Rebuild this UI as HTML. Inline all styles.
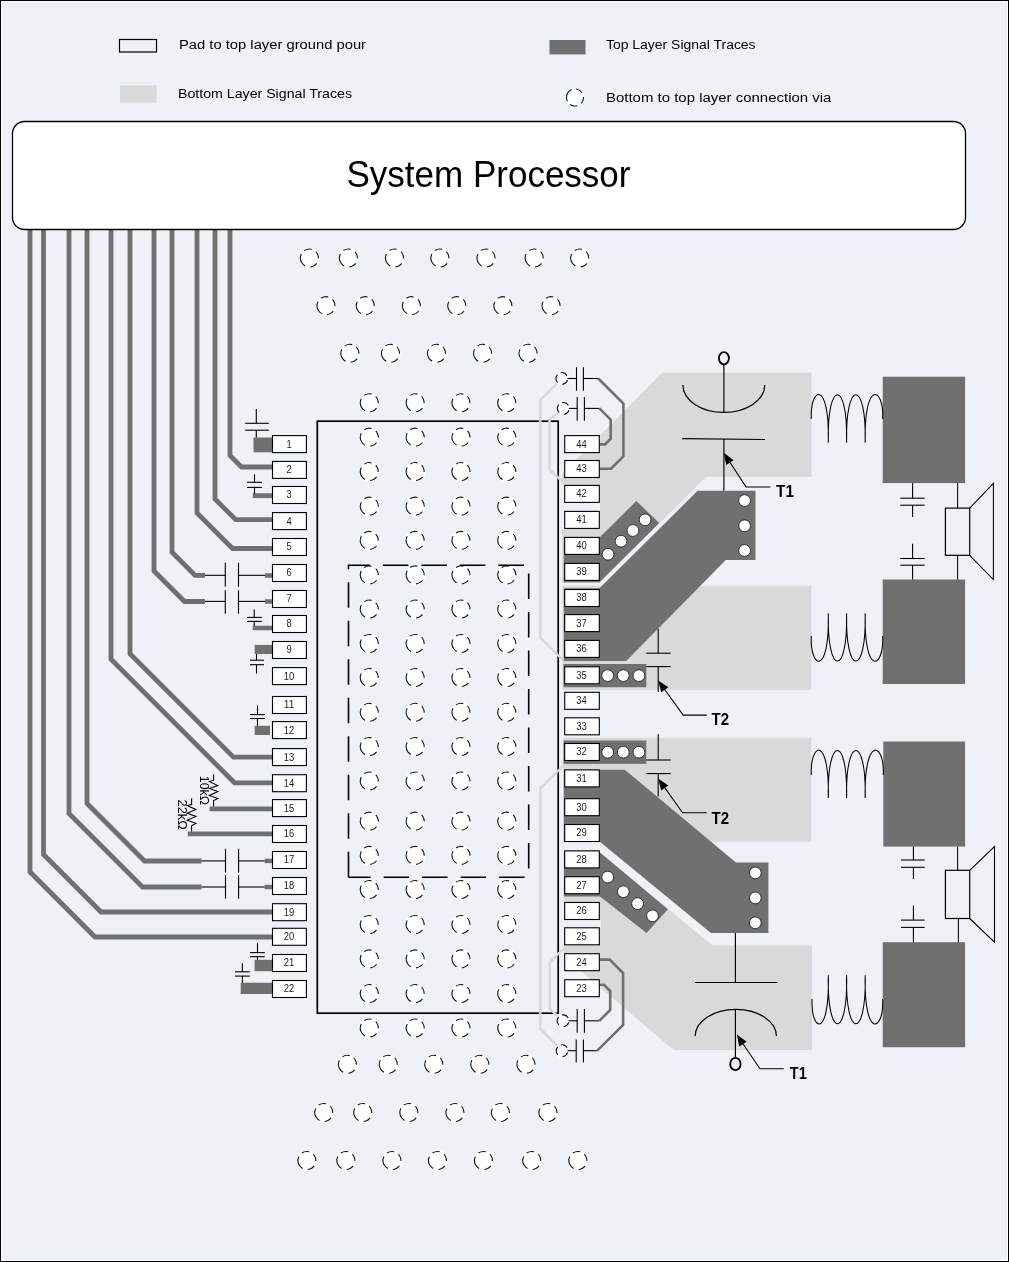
<!DOCTYPE html>
<html><head><meta charset="utf-8"><title>PCB layout</title>
<style>html,body{margin:0;padding:0;background:#EEF1F6;}svg{display:block;will-change:transform;}text{font-family:"Liberation Sans", sans-serif;}</style>
</head><body>
<svg width="1009" height="1262" viewBox="0 0 1009 1262" font-family="Liberation Sans, sans-serif">
<rect x="0" y="0" width="1009" height="1262" fill="#EEF1F6"/>
<rect x="119.5" y="39.5" width="37" height="12.5" fill="none" stroke="#000" stroke-width="1.2"/>
<rect x="120" y="85.5" width="36.6" height="17" fill="#D9D9D9"/>
<rect x="549.5" y="40" width="36" height="14.4" fill="#707070"/>
<circle cx="575" cy="97.5" r="9.7" fill="#fff"/>
<circle cx="575" cy="97.5" r="8.5" fill="#fff" stroke="#111" stroke-width="1.1" stroke-dasharray="7.1 4.45 7 4.6 7.4 4.3 13.9 4.45" transform="rotate(-82.7 575 97.5)"/>
<text x="179" y="49.3" font-size="13.7" textLength="187" lengthAdjust="spacingAndGlyphs">Pad to top layer ground pour</text>
<text x="178" y="98.4" font-size="13.7" textLength="174" lengthAdjust="spacingAndGlyphs">Bottom Layer Signal Traces</text>
<text x="606" y="49.3" font-size="13.7" textLength="149.6" lengthAdjust="spacingAndGlyphs">Top Layer Signal Traces</text>
<text x="606" y="101.6" font-size="13.7" textLength="225.4" lengthAdjust="spacingAndGlyphs">Bottom to top layer connection via</text>
<path d="M30,229 L30,872 L95,937 L272.5,937" fill="none" stroke="#707070" stroke-width="4.8" stroke-linejoin="miter" stroke-linecap="butt"/>
<path d="M43.5,229 L43.5,854.5 L101,912 L272.5,912" fill="none" stroke="#707070" stroke-width="4.8" stroke-linejoin="miter" stroke-linecap="butt"/>
<path d="M69,229 L69,813.5 L142.5,887 L201.5,887" fill="none" stroke="#707070" stroke-width="4.8" stroke-linejoin="miter" stroke-linecap="butt"/>
<path d="M87,229 L87,803.5 L144.5,861 L201.5,861" fill="none" stroke="#707070" stroke-width="4.8" stroke-linejoin="miter" stroke-linecap="butt"/>
<path d="M111,229 L111,659.3 L234.5,782.8 L272.5,782.8" fill="none" stroke="#707070" stroke-width="4.8" stroke-linejoin="miter" stroke-linecap="butt"/>
<path d="M130,229 L130,653.7 L233.5,757.2 L272.5,757.2" fill="none" stroke="#707070" stroke-width="4.8" stroke-linejoin="miter" stroke-linecap="butt"/>
<path d="M154,229 L154,571 L184.5,601.5 L205,601.5" fill="none" stroke="#707070" stroke-width="4.8" stroke-linejoin="miter" stroke-linecap="butt"/>
<path d="M172,229 L172,552.3 L195,575.3 L205,575.3" fill="none" stroke="#707070" stroke-width="4.8" stroke-linejoin="miter" stroke-linecap="butt"/>
<path d="M197,229 L197,513 L232.5,548.5 L272.5,548.5" fill="none" stroke="#707070" stroke-width="4.8" stroke-linejoin="miter" stroke-linecap="butt"/>
<path d="M215,229 L215,499 L235.7,519.7 L272.5,519.7" fill="none" stroke="#707070" stroke-width="4.8" stroke-linejoin="miter" stroke-linecap="butt"/>
<path d="M230,229 L230,455.5 L241.5,467 L272.5,467" fill="none" stroke="#707070" stroke-width="4.8" stroke-linejoin="miter" stroke-linecap="butt"/>
<rect x="12.5" y="121.5" width="953" height="108" rx="12" ry="12" fill="#fff" stroke="#000" stroke-width="1.3"/>
<text x="346.5" y="186.6" font-size="36.8" textLength="284" lengthAdjust="spacingAndGlyphs">System Processor</text>
<rect x="253.5" y="437.5" width="19" height="14.8" fill="#707070"/>
<path d="M256.3,409 L256.3,423.3" fill="none" stroke="#000" stroke-width="1.1" />
<path d="M245.2,423.3 L268.8,423.3" fill="none" stroke="#000" stroke-width="1.1" />
<path d="M245.2,430.2 L268.8,430.2" fill="none" stroke="#000" stroke-width="1.1" />
<path d="M256.3,430.2 L256.3,437.5" fill="none" stroke="#000" stroke-width="1.1" />
<path d="M252.8,495.7 L272.5,495.7" fill="none" stroke="#707070" stroke-width="4.8" stroke-linejoin="miter" stroke-linecap="butt"/>
<path d="M254.5,474.2 L254.5,482.3" fill="none" stroke="#000" stroke-width="1.1" />
<path d="M247,482.3 L261.9,482.3" fill="none" stroke="#000" stroke-width="1.1" />
<path d="M247,487.4 L261.9,487.4" fill="none" stroke="#000" stroke-width="1.1" />
<path d="M254.5,487.4 L254.5,494" fill="none" stroke="#000" stroke-width="1.1" />
<path d="M265,575.5 L272.5,575.5" fill="none" stroke="#707070" stroke-width="4.5" stroke-linejoin="miter" stroke-linecap="butt"/>
<path d="M205,575.3 L225.3,575.3" fill="none" stroke="#000" stroke-width="1.1" />
<path d="M225.3,562.8 L225.3,586.6" fill="none" stroke="#000" stroke-width="1.1" />
<path d="M238.5,562.8 L238.5,586.6" fill="none" stroke="#000" stroke-width="1.1" />
<path d="M238.5,575.3 L265,575.3" fill="none" stroke="#000" stroke-width="1.1" />
<path d="M265,601.5 L272.5,601.5" fill="none" stroke="#707070" stroke-width="4.5" stroke-linejoin="miter" stroke-linecap="butt"/>
<path d="M205,601.4 L225.3,601.4" fill="none" stroke="#000" stroke-width="1.1" />
<path d="M225.3,590.3 L225.3,613.7" fill="none" stroke="#000" stroke-width="1.1" />
<path d="M238.5,590.3 L238.5,613.7" fill="none" stroke="#000" stroke-width="1.1" />
<path d="M238.5,601.4 L265,601.4" fill="none" stroke="#000" stroke-width="1.1" />
<path d="M252.7,628 L272.5,628" fill="none" stroke="#707070" stroke-width="4.5" stroke-linejoin="miter" stroke-linecap="butt"/>
<path d="M254.2,609.4 L254.2,617.4" fill="none" stroke="#000" stroke-width="1.1" />
<path d="M247,617.4 L261.8,617.4" fill="none" stroke="#000" stroke-width="1.1" />
<path d="M247,621.4 L261.8,621.4" fill="none" stroke="#000" stroke-width="1.1" />
<path d="M254.2,621.4 L254.2,626" fill="none" stroke="#000" stroke-width="1.1" />
<rect x="254.7" y="644.9" width="17.8" height="9.1" fill="#707070"/>
<path d="M256.5,673.6 L256.5,664.7" fill="none" stroke="#000" stroke-width="1.1" />
<path d="M250,664.7 L264,664.7" fill="none" stroke="#000" stroke-width="1.1" />
<path d="M250,660.2 L264,660.2" fill="none" stroke="#000" stroke-width="1.1" />
<path d="M256.5,660.2 L256.5,654" fill="none" stroke="#000" stroke-width="1.1" />
<rect x="254.7" y="725.8" width="15.3" height="9.2" fill="#707070"/>
<path d="M257.5,705.4 L257.5,714.6" fill="none" stroke="#000" stroke-width="1.1" />
<path d="M250,714.6 L265,714.6" fill="none" stroke="#000" stroke-width="1.1" />
<path d="M250,718.5 L265,718.5" fill="none" stroke="#000" stroke-width="1.1" />
<path d="M257.5,718.5 L257.5,725.8" fill="none" stroke="#000" stroke-width="1.1" />
<path d="M209.6,808.8 L272.5,808.8" fill="none" stroke="#707070" stroke-width="4.8" stroke-linejoin="miter" stroke-linecap="butt"/>
<path d="M187.8,833.8 L272.5,833.8" fill="none" stroke="#707070" stroke-width="4.8" stroke-linejoin="miter" stroke-linecap="butt"/>
<path d="M213.6,774.2 L213.6,780.2 L209.3,781.5 L217.9,785.6 L209.3,788.5 L217.9,791.6 L209.3,795.4 L217.9,798.6 L213.6,800.5 L213.6,806.5" fill="none" stroke="#000" stroke-width="1.05" />
<path d="M191.6,798.3 L191.6,804.6 L187.1,805.6 L196,809.4 L187.1,813.2 L196,816.4 L187.1,820.2 L196,823.3 L191.6,825.9 L191.6,831.6" fill="none" stroke="#000" stroke-width="1.05" />
<text transform="translate(200.3,775.8) rotate(90)" x="0" y="0" font-size="12.5" textLength="29.2" lengthAdjust="spacingAndGlyphs">10kΩ</text>
<text transform="translate(178.4,799.6) rotate(90)" x="0" y="0" font-size="12.5" textLength="30.1" lengthAdjust="spacingAndGlyphs">22kΩ</text>
<path d="M264.6,860.9 L272.5,860.9" fill="none" stroke="#707070" stroke-width="4.5" stroke-linejoin="miter" stroke-linecap="butt"/>
<path d="M201.5,860.9 L225.5,860.9" fill="none" stroke="#000" stroke-width="1.1" />
<path d="M225.5,848.8 L225.5,872.4" fill="none" stroke="#000" stroke-width="1.1" />
<path d="M238.6,848.8 L238.6,872.4" fill="none" stroke="#000" stroke-width="1.1" />
<path d="M238.6,860.9 L264.6,860.9" fill="none" stroke="#000" stroke-width="1.1" />
<path d="M264.6,887 L272.5,887" fill="none" stroke="#707070" stroke-width="4.5" stroke-linejoin="miter" stroke-linecap="butt"/>
<path d="M201.5,887 L225.5,887" fill="none" stroke="#000" stroke-width="1.1" />
<path d="M225.5,875.2 L225.5,898.7" fill="none" stroke="#000" stroke-width="1.1" />
<path d="M238.6,875.2 L238.6,898.7" fill="none" stroke="#000" stroke-width="1.1" />
<path d="M238.6,887 L264.6,887" fill="none" stroke="#000" stroke-width="1.1" />
<rect x="254.6" y="959.8" width="17.9" height="11.4" fill="#707070"/>
<path d="M257.5,943.2 L257.5,952.6" fill="none" stroke="#000" stroke-width="1.1" />
<path d="M250.1,952.6 L264.8,952.6" fill="none" stroke="#000" stroke-width="1.1" />
<path d="M250.1,956.7 L264.8,956.7" fill="none" stroke="#000" stroke-width="1.1" />
<path d="M257.5,956.7 L257.5,959.8" fill="none" stroke="#000" stroke-width="1.1" />
<rect x="240.7" y="982.7" width="31.8" height="11.3" fill="#707070"/>
<path d="M242.4,963.3 L242.4,971.8" fill="none" stroke="#000" stroke-width="1.1" />
<path d="M235,971.8 L249.8,971.8" fill="none" stroke="#000" stroke-width="1.1" />
<path d="M235,976.1 L249.8,976.1" fill="none" stroke="#000" stroke-width="1.1" />
<path d="M242.4,976.1 L242.4,982.7" fill="none" stroke="#000" stroke-width="1.1" />
<rect x="272.5" y="435.6" width="33.9" height="17.0" fill="#fff" stroke="#000" stroke-width="1.1"/>
<text x="286.45" y="447.5" font-size="10" textLength="5.2" lengthAdjust="spacingAndGlyphs" fill="#1a1a1a">1</text>
<rect x="272.5" y="461.4" width="33.9" height="17.0" fill="#fff" stroke="#000" stroke-width="1.1"/>
<text x="286.45" y="473.3" font-size="10" textLength="5.2" lengthAdjust="spacingAndGlyphs" fill="#1a1a1a">2</text>
<rect x="272.5" y="486.5" width="33.9" height="17.0" fill="#fff" stroke="#000" stroke-width="1.1"/>
<text x="286.45" y="498.4" font-size="10" textLength="5.2" lengthAdjust="spacingAndGlyphs" fill="#1a1a1a">3</text>
<rect x="272.5" y="512.6" width="33.9" height="17.0" fill="#fff" stroke="#000" stroke-width="1.1"/>
<text x="286.45" y="524.5" font-size="10" textLength="5.2" lengthAdjust="spacingAndGlyphs" fill="#1a1a1a">4</text>
<rect x="272.5" y="538.5" width="33.9" height="17.0" fill="#fff" stroke="#000" stroke-width="1.1"/>
<text x="286.45" y="550.4" font-size="10" textLength="5.2" lengthAdjust="spacingAndGlyphs" fill="#1a1a1a">5</text>
<rect x="272.5" y="564.5" width="33.9" height="17.0" fill="#fff" stroke="#000" stroke-width="1.1"/>
<text x="286.45" y="576.4" font-size="10" textLength="5.2" lengthAdjust="spacingAndGlyphs" fill="#1a1a1a">6</text>
<rect x="272.5" y="590.5" width="33.9" height="17.0" fill="#fff" stroke="#000" stroke-width="1.1"/>
<text x="286.45" y="602.4" font-size="10" textLength="5.2" lengthAdjust="spacingAndGlyphs" fill="#1a1a1a">7</text>
<rect x="272.5" y="615.5" width="33.9" height="17.0" fill="#fff" stroke="#000" stroke-width="1.1"/>
<text x="286.45" y="627.4" font-size="10" textLength="5.2" lengthAdjust="spacingAndGlyphs" fill="#1a1a1a">8</text>
<rect x="272.5" y="641.5" width="33.9" height="17.0" fill="#fff" stroke="#000" stroke-width="1.1"/>
<text x="286.45" y="653.4" font-size="10" textLength="5.2" lengthAdjust="spacingAndGlyphs" fill="#1a1a1a">9</text>
<rect x="272.5" y="667.6" width="33.9" height="17.0" fill="#fff" stroke="#000" stroke-width="1.1"/>
<text x="283.8" y="679.5" font-size="10" textLength="10.5" lengthAdjust="spacingAndGlyphs" fill="#1a1a1a">10</text>
<rect x="272.5" y="696.5" width="33.9" height="17.0" fill="#fff" stroke="#000" stroke-width="1.1"/>
<text x="283.8" y="708.4" font-size="10" textLength="10.5" lengthAdjust="spacingAndGlyphs" fill="#1a1a1a">11</text>
<rect x="272.5" y="721.6" width="33.9" height="17.0" fill="#fff" stroke="#000" stroke-width="1.1"/>
<text x="283.8" y="733.5" font-size="10" textLength="10.5" lengthAdjust="spacingAndGlyphs" fill="#1a1a1a">12</text>
<rect x="272.5" y="748.6" width="33.9" height="17.0" fill="#fff" stroke="#000" stroke-width="1.1"/>
<text x="283.8" y="760.5" font-size="10" textLength="10.5" lengthAdjust="spacingAndGlyphs" fill="#1a1a1a">13</text>
<rect x="272.5" y="774.7" width="33.9" height="17.0" fill="#fff" stroke="#000" stroke-width="1.1"/>
<text x="283.8" y="786.6" font-size="10" textLength="10.5" lengthAdjust="spacingAndGlyphs" fill="#1a1a1a">14</text>
<rect x="272.5" y="799.6" width="33.9" height="17.0" fill="#fff" stroke="#000" stroke-width="1.1"/>
<text x="283.8" y="811.5" font-size="10" textLength="10.5" lengthAdjust="spacingAndGlyphs" fill="#1a1a1a">15</text>
<rect x="272.5" y="825.5" width="33.9" height="17.0" fill="#fff" stroke="#000" stroke-width="1.1"/>
<text x="283.8" y="837.4" font-size="10" textLength="10.5" lengthAdjust="spacingAndGlyphs" fill="#1a1a1a">16</text>
<rect x="272.5" y="851.5" width="33.9" height="17.0" fill="#fff" stroke="#000" stroke-width="1.1"/>
<text x="283.8" y="863.4" font-size="10" textLength="10.5" lengthAdjust="spacingAndGlyphs" fill="#1a1a1a">17</text>
<rect x="272.5" y="877.5" width="33.9" height="17.0" fill="#fff" stroke="#000" stroke-width="1.1"/>
<text x="283.8" y="889.4" font-size="10" textLength="10.5" lengthAdjust="spacingAndGlyphs" fill="#1a1a1a">18</text>
<rect x="272.5" y="903.7" width="33.9" height="17.0" fill="#fff" stroke="#000" stroke-width="1.1"/>
<text x="283.8" y="915.6" font-size="10" textLength="10.5" lengthAdjust="spacingAndGlyphs" fill="#1a1a1a">19</text>
<rect x="272.5" y="928.3" width="33.9" height="17.0" fill="#fff" stroke="#000" stroke-width="1.1"/>
<text x="283.8" y="940.2" font-size="10" textLength="10.5" lengthAdjust="spacingAndGlyphs" fill="#1a1a1a">20</text>
<rect x="272.5" y="954.5" width="33.9" height="17.0" fill="#fff" stroke="#000" stroke-width="1.1"/>
<text x="283.8" y="966.4" font-size="10" textLength="10.5" lengthAdjust="spacingAndGlyphs" fill="#1a1a1a">21</text>
<rect x="272.5" y="980.5" width="33.9" height="17.0" fill="#fff" stroke="#000" stroke-width="1.1"/>
<text x="283.8" y="992.4" font-size="10" textLength="10.5" lengthAdjust="spacingAndGlyphs" fill="#1a1a1a">22</text>
<circle cx="309.4" cy="258" r="10.2" fill="#fff"/>
<circle cx="309.4" cy="258" r="9" fill="#fff" stroke="#111" stroke-width="1.1" stroke-dasharray="7.6 4.7 7.5 5.2 7.6 5.2 13.8 4.9" transform="rotate(-124 309.4 258)"/>
<circle cx="348.4" cy="258" r="10.2" fill="#fff"/>
<circle cx="348.4" cy="258" r="9" fill="#fff" stroke="#111" stroke-width="1.1" stroke-dasharray="7.6 4.7 7.5 5.2 7.6 5.2 13.8 4.9" transform="rotate(-124 348.4 258)"/>
<circle cx="394.5" cy="258" r="10.2" fill="#fff"/>
<circle cx="394.5" cy="258" r="9" fill="#fff" stroke="#111" stroke-width="1.1" stroke-dasharray="7.6 4.7 7.5 5.2 7.6 5.2 13.8 4.9" transform="rotate(-124 394.5 258)"/>
<circle cx="439.9" cy="258" r="10.2" fill="#fff"/>
<circle cx="439.9" cy="258" r="9" fill="#fff" stroke="#111" stroke-width="1.1" stroke-dasharray="7.6 4.7 7.5 5.2 7.6 5.2 13.8 4.9" transform="rotate(-124 439.9 258)"/>
<circle cx="486" cy="258" r="10.2" fill="#fff"/>
<circle cx="486" cy="258" r="9" fill="#fff" stroke="#111" stroke-width="1.1" stroke-dasharray="7.6 4.7 7.5 5.2 7.6 5.2 13.8 4.9" transform="rotate(-124 486 258)"/>
<circle cx="534.2" cy="258" r="10.2" fill="#fff"/>
<circle cx="534.2" cy="258" r="9" fill="#fff" stroke="#111" stroke-width="1.1" stroke-dasharray="7.6 4.7 7.5 5.2 7.6 5.2 13.8 4.9" transform="rotate(-124 534.2 258)"/>
<circle cx="579.7" cy="258" r="10.2" fill="#fff"/>
<circle cx="579.7" cy="258" r="9" fill="#fff" stroke="#111" stroke-width="1.1" stroke-dasharray="7.6 4.7 7.5 5.2 7.6 5.2 13.8 4.9" transform="rotate(-124 579.7 258)"/>
<circle cx="326" cy="305.7" r="10.2" fill="#fff"/>
<circle cx="326" cy="305.7" r="9" fill="#fff" stroke="#111" stroke-width="1.1" stroke-dasharray="7.6 4.7 7.5 5.2 7.6 5.2 13.8 4.9" transform="rotate(-124 326 305.7)"/>
<circle cx="365.3" cy="305.7" r="10.2" fill="#fff"/>
<circle cx="365.3" cy="305.7" r="9" fill="#fff" stroke="#111" stroke-width="1.1" stroke-dasharray="7.6 4.7 7.5 5.2 7.6 5.2 13.8 4.9" transform="rotate(-124 365.3 305.7)"/>
<circle cx="411.4" cy="305.7" r="10.2" fill="#fff"/>
<circle cx="411.4" cy="305.7" r="9" fill="#fff" stroke="#111" stroke-width="1.1" stroke-dasharray="7.6 4.7 7.5 5.2 7.6 5.2 13.8 4.9" transform="rotate(-124 411.4 305.7)"/>
<circle cx="456.8" cy="305.7" r="10.2" fill="#fff"/>
<circle cx="456.8" cy="305.7" r="9" fill="#fff" stroke="#111" stroke-width="1.1" stroke-dasharray="7.6 4.7 7.5 5.2 7.6 5.2 13.8 4.9" transform="rotate(-124 456.8 305.7)"/>
<circle cx="502.9" cy="305.7" r="10.2" fill="#fff"/>
<circle cx="502.9" cy="305.7" r="9" fill="#fff" stroke="#111" stroke-width="1.1" stroke-dasharray="7.6 4.7 7.5 5.2 7.6 5.2 13.8 4.9" transform="rotate(-124 502.9 305.7)"/>
<circle cx="551.1" cy="305.7" r="10.2" fill="#fff"/>
<circle cx="551.1" cy="305.7" r="9" fill="#fff" stroke="#111" stroke-width="1.1" stroke-dasharray="7.6 4.7 7.5 5.2 7.6 5.2 13.8 4.9" transform="rotate(-124 551.1 305.7)"/>
<circle cx="349.9" cy="353.3" r="10.2" fill="#fff"/>
<circle cx="349.9" cy="353.3" r="9" fill="#fff" stroke="#111" stroke-width="1.1" stroke-dasharray="7.6 4.7 7.5 5.2 7.6 5.2 13.8 4.9" transform="rotate(-124 349.9 353.3)"/>
<circle cx="390.5" cy="353.3" r="10.2" fill="#fff"/>
<circle cx="390.5" cy="353.3" r="9" fill="#fff" stroke="#111" stroke-width="1.1" stroke-dasharray="7.6 4.7 7.5 5.2 7.6 5.2 13.8 4.9" transform="rotate(-124 390.5 353.3)"/>
<circle cx="436.5" cy="353.3" r="10.2" fill="#fff"/>
<circle cx="436.5" cy="353.3" r="9" fill="#fff" stroke="#111" stroke-width="1.1" stroke-dasharray="7.6 4.7 7.5 5.2 7.6 5.2 13.8 4.9" transform="rotate(-124 436.5 353.3)"/>
<circle cx="482.6" cy="353.3" r="10.2" fill="#fff"/>
<circle cx="482.6" cy="353.3" r="9" fill="#fff" stroke="#111" stroke-width="1.1" stroke-dasharray="7.6 4.7 7.5 5.2 7.6 5.2 13.8 4.9" transform="rotate(-124 482.6 353.3)"/>
<circle cx="528.1" cy="353.3" r="10.2" fill="#fff"/>
<circle cx="528.1" cy="353.3" r="9" fill="#fff" stroke="#111" stroke-width="1.1" stroke-dasharray="7.6 4.7 7.5 5.2 7.6 5.2 13.8 4.9" transform="rotate(-124 528.1 353.3)"/>
<rect x="317.3" y="421.2" width="240.9" height="592" fill="none" stroke="#000" stroke-width="1.7"/>
<circle cx="369.3" cy="402.8" r="10.2" fill="#fff"/>
<circle cx="369.3" cy="402.8" r="9" fill="#fff" stroke="#111" stroke-width="1.1" stroke-dasharray="7.6 4.7 7.5 5.2 7.6 5.2 13.8 4.9" transform="rotate(-124 369.3 402.8)"/>
<circle cx="415.2" cy="402.8" r="10.2" fill="#fff"/>
<circle cx="415.2" cy="402.8" r="9" fill="#fff" stroke="#111" stroke-width="1.1" stroke-dasharray="7.6 4.7 7.5 5.2 7.6 5.2 13.8 4.9" transform="rotate(-124 415.2 402.8)"/>
<circle cx="461" cy="402.8" r="10.2" fill="#fff"/>
<circle cx="461" cy="402.8" r="9" fill="#fff" stroke="#111" stroke-width="1.1" stroke-dasharray="7.6 4.7 7.5 5.2 7.6 5.2 13.8 4.9" transform="rotate(-124 461 402.8)"/>
<circle cx="506.8" cy="402.8" r="10.2" fill="#fff"/>
<circle cx="506.8" cy="402.8" r="9" fill="#fff" stroke="#111" stroke-width="1.1" stroke-dasharray="7.6 4.7 7.5 5.2 7.6 5.2 13.8 4.9" transform="rotate(-124 506.8 402.8)"/>
<circle cx="369.3" cy="437.2" r="10.2" fill="#fff"/>
<circle cx="369.3" cy="437.2" r="9" fill="#fff" stroke="#111" stroke-width="1.1" stroke-dasharray="7.6 4.7 7.5 5.2 7.6 5.2 13.8 4.9" transform="rotate(-124 369.3 437.2)"/>
<circle cx="415.2" cy="437.2" r="10.2" fill="#fff"/>
<circle cx="415.2" cy="437.2" r="9" fill="#fff" stroke="#111" stroke-width="1.1" stroke-dasharray="7.6 4.7 7.5 5.2 7.6 5.2 13.8 4.9" transform="rotate(-124 415.2 437.2)"/>
<circle cx="461" cy="437.2" r="10.2" fill="#fff"/>
<circle cx="461" cy="437.2" r="9" fill="#fff" stroke="#111" stroke-width="1.1" stroke-dasharray="7.6 4.7 7.5 5.2 7.6 5.2 13.8 4.9" transform="rotate(-124 461 437.2)"/>
<circle cx="506.8" cy="437.2" r="10.2" fill="#fff"/>
<circle cx="506.8" cy="437.2" r="9" fill="#fff" stroke="#111" stroke-width="1.1" stroke-dasharray="7.6 4.7 7.5 5.2 7.6 5.2 13.8 4.9" transform="rotate(-124 506.8 437.2)"/>
<circle cx="369.3" cy="471.6" r="10.2" fill="#fff"/>
<circle cx="369.3" cy="471.6" r="9" fill="#fff" stroke="#111" stroke-width="1.1" stroke-dasharray="7.6 4.7 7.5 5.2 7.6 5.2 13.8 4.9" transform="rotate(-124 369.3 471.6)"/>
<circle cx="415.2" cy="471.6" r="10.2" fill="#fff"/>
<circle cx="415.2" cy="471.6" r="9" fill="#fff" stroke="#111" stroke-width="1.1" stroke-dasharray="7.6 4.7 7.5 5.2 7.6 5.2 13.8 4.9" transform="rotate(-124 415.2 471.6)"/>
<circle cx="461" cy="471.6" r="10.2" fill="#fff"/>
<circle cx="461" cy="471.6" r="9" fill="#fff" stroke="#111" stroke-width="1.1" stroke-dasharray="7.6 4.7 7.5 5.2 7.6 5.2 13.8 4.9" transform="rotate(-124 461 471.6)"/>
<circle cx="506.8" cy="471.6" r="10.2" fill="#fff"/>
<circle cx="506.8" cy="471.6" r="9" fill="#fff" stroke="#111" stroke-width="1.1" stroke-dasharray="7.6 4.7 7.5 5.2 7.6 5.2 13.8 4.9" transform="rotate(-124 506.8 471.6)"/>
<circle cx="369.3" cy="506.2" r="10.2" fill="#fff"/>
<circle cx="369.3" cy="506.2" r="9" fill="#fff" stroke="#111" stroke-width="1.1" stroke-dasharray="7.6 4.7 7.5 5.2 7.6 5.2 13.8 4.9" transform="rotate(-124 369.3 506.2)"/>
<circle cx="415.2" cy="506.2" r="10.2" fill="#fff"/>
<circle cx="415.2" cy="506.2" r="9" fill="#fff" stroke="#111" stroke-width="1.1" stroke-dasharray="7.6 4.7 7.5 5.2 7.6 5.2 13.8 4.9" transform="rotate(-124 415.2 506.2)"/>
<circle cx="461" cy="506.2" r="10.2" fill="#fff"/>
<circle cx="461" cy="506.2" r="9" fill="#fff" stroke="#111" stroke-width="1.1" stroke-dasharray="7.6 4.7 7.5 5.2 7.6 5.2 13.8 4.9" transform="rotate(-124 461 506.2)"/>
<circle cx="506.8" cy="506.2" r="10.2" fill="#fff"/>
<circle cx="506.8" cy="506.2" r="9" fill="#fff" stroke="#111" stroke-width="1.1" stroke-dasharray="7.6 4.7 7.5 5.2 7.6 5.2 13.8 4.9" transform="rotate(-124 506.8 506.2)"/>
<circle cx="369.3" cy="540.4" r="10.2" fill="#fff"/>
<circle cx="369.3" cy="540.4" r="9" fill="#fff" stroke="#111" stroke-width="1.1" stroke-dasharray="7.6 4.7 7.5 5.2 7.6 5.2 13.8 4.9" transform="rotate(-124 369.3 540.4)"/>
<circle cx="415.2" cy="540.4" r="10.2" fill="#fff"/>
<circle cx="415.2" cy="540.4" r="9" fill="#fff" stroke="#111" stroke-width="1.1" stroke-dasharray="7.6 4.7 7.5 5.2 7.6 5.2 13.8 4.9" transform="rotate(-124 415.2 540.4)"/>
<circle cx="461" cy="540.4" r="10.2" fill="#fff"/>
<circle cx="461" cy="540.4" r="9" fill="#fff" stroke="#111" stroke-width="1.1" stroke-dasharray="7.6 4.7 7.5 5.2 7.6 5.2 13.8 4.9" transform="rotate(-124 461 540.4)"/>
<circle cx="506.8" cy="540.4" r="10.2" fill="#fff"/>
<circle cx="506.8" cy="540.4" r="9" fill="#fff" stroke="#111" stroke-width="1.1" stroke-dasharray="7.6 4.7 7.5 5.2 7.6 5.2 13.8 4.9" transform="rotate(-124 506.8 540.4)"/>
<circle cx="369.3" cy="574.9" r="10.2" fill="#fff"/>
<circle cx="369.3" cy="574.9" r="9" fill="#fff" stroke="#111" stroke-width="1.1" stroke-dasharray="7.6 4.7 7.5 5.2 7.6 5.2 13.8 4.9" transform="rotate(-124 369.3 574.9)"/>
<circle cx="415.2" cy="574.9" r="10.2" fill="#fff"/>
<circle cx="415.2" cy="574.9" r="9" fill="#fff" stroke="#111" stroke-width="1.1" stroke-dasharray="7.6 4.7 7.5 5.2 7.6 5.2 13.8 4.9" transform="rotate(-124 415.2 574.9)"/>
<circle cx="461" cy="574.9" r="10.2" fill="#fff"/>
<circle cx="461" cy="574.9" r="9" fill="#fff" stroke="#111" stroke-width="1.1" stroke-dasharray="7.6 4.7 7.5 5.2 7.6 5.2 13.8 4.9" transform="rotate(-124 461 574.9)"/>
<circle cx="506.8" cy="574.9" r="10.2" fill="#fff"/>
<circle cx="506.8" cy="574.9" r="9" fill="#fff" stroke="#111" stroke-width="1.1" stroke-dasharray="7.6 4.7 7.5 5.2 7.6 5.2 13.8 4.9" transform="rotate(-124 506.8 574.9)"/>
<circle cx="369.3" cy="609.1" r="10.2" fill="#fff"/>
<circle cx="369.3" cy="609.1" r="9" fill="#fff" stroke="#111" stroke-width="1.1" stroke-dasharray="7.6 4.7 7.5 5.2 7.6 5.2 13.8 4.9" transform="rotate(-124 369.3 609.1)"/>
<circle cx="415.2" cy="609.1" r="10.2" fill="#fff"/>
<circle cx="415.2" cy="609.1" r="9" fill="#fff" stroke="#111" stroke-width="1.1" stroke-dasharray="7.6 4.7 7.5 5.2 7.6 5.2 13.8 4.9" transform="rotate(-124 415.2 609.1)"/>
<circle cx="461" cy="609.1" r="10.2" fill="#fff"/>
<circle cx="461" cy="609.1" r="9" fill="#fff" stroke="#111" stroke-width="1.1" stroke-dasharray="7.6 4.7 7.5 5.2 7.6 5.2 13.8 4.9" transform="rotate(-124 461 609.1)"/>
<circle cx="506.8" cy="609.1" r="10.2" fill="#fff"/>
<circle cx="506.8" cy="609.1" r="9" fill="#fff" stroke="#111" stroke-width="1.1" stroke-dasharray="7.6 4.7 7.5 5.2 7.6 5.2 13.8 4.9" transform="rotate(-124 506.8 609.1)"/>
<circle cx="369.3" cy="643.5" r="10.2" fill="#fff"/>
<circle cx="369.3" cy="643.5" r="9" fill="#fff" stroke="#111" stroke-width="1.1" stroke-dasharray="7.6 4.7 7.5 5.2 7.6 5.2 13.8 4.9" transform="rotate(-124 369.3 643.5)"/>
<circle cx="415.2" cy="643.5" r="10.2" fill="#fff"/>
<circle cx="415.2" cy="643.5" r="9" fill="#fff" stroke="#111" stroke-width="1.1" stroke-dasharray="7.6 4.7 7.5 5.2 7.6 5.2 13.8 4.9" transform="rotate(-124 415.2 643.5)"/>
<circle cx="461" cy="643.5" r="10.2" fill="#fff"/>
<circle cx="461" cy="643.5" r="9" fill="#fff" stroke="#111" stroke-width="1.1" stroke-dasharray="7.6 4.7 7.5 5.2 7.6 5.2 13.8 4.9" transform="rotate(-124 461 643.5)"/>
<circle cx="506.8" cy="643.5" r="10.2" fill="#fff"/>
<circle cx="506.8" cy="643.5" r="9" fill="#fff" stroke="#111" stroke-width="1.1" stroke-dasharray="7.6 4.7 7.5 5.2 7.6 5.2 13.8 4.9" transform="rotate(-124 506.8 643.5)"/>
<circle cx="369.3" cy="677.6" r="10.2" fill="#fff"/>
<circle cx="369.3" cy="677.6" r="9" fill="#fff" stroke="#111" stroke-width="1.1" stroke-dasharray="7.6 4.7 7.5 5.2 7.6 5.2 13.8 4.9" transform="rotate(-124 369.3 677.6)"/>
<circle cx="415.2" cy="677.6" r="10.2" fill="#fff"/>
<circle cx="415.2" cy="677.6" r="9" fill="#fff" stroke="#111" stroke-width="1.1" stroke-dasharray="7.6 4.7 7.5 5.2 7.6 5.2 13.8 4.9" transform="rotate(-124 415.2 677.6)"/>
<circle cx="461" cy="677.6" r="10.2" fill="#fff"/>
<circle cx="461" cy="677.6" r="9" fill="#fff" stroke="#111" stroke-width="1.1" stroke-dasharray="7.6 4.7 7.5 5.2 7.6 5.2 13.8 4.9" transform="rotate(-124 461 677.6)"/>
<circle cx="506.8" cy="677.6" r="10.2" fill="#fff"/>
<circle cx="506.8" cy="677.6" r="9" fill="#fff" stroke="#111" stroke-width="1.1" stroke-dasharray="7.6 4.7 7.5 5.2 7.6 5.2 13.8 4.9" transform="rotate(-124 506.8 677.6)"/>
<circle cx="369.3" cy="712.3" r="10.2" fill="#fff"/>
<circle cx="369.3" cy="712.3" r="9" fill="#fff" stroke="#111" stroke-width="1.1" stroke-dasharray="7.6 4.7 7.5 5.2 7.6 5.2 13.8 4.9" transform="rotate(-124 369.3 712.3)"/>
<circle cx="415.2" cy="712.3" r="10.2" fill="#fff"/>
<circle cx="415.2" cy="712.3" r="9" fill="#fff" stroke="#111" stroke-width="1.1" stroke-dasharray="7.6 4.7 7.5 5.2 7.6 5.2 13.8 4.9" transform="rotate(-124 415.2 712.3)"/>
<circle cx="461" cy="712.3" r="10.2" fill="#fff"/>
<circle cx="461" cy="712.3" r="9" fill="#fff" stroke="#111" stroke-width="1.1" stroke-dasharray="7.6 4.7 7.5 5.2 7.6 5.2 13.8 4.9" transform="rotate(-124 461 712.3)"/>
<circle cx="506.8" cy="712.3" r="10.2" fill="#fff"/>
<circle cx="506.8" cy="712.3" r="9" fill="#fff" stroke="#111" stroke-width="1.1" stroke-dasharray="7.6 4.7 7.5 5.2 7.6 5.2 13.8 4.9" transform="rotate(-124 506.8 712.3)"/>
<circle cx="369.3" cy="746.6" r="10.2" fill="#fff"/>
<circle cx="369.3" cy="746.6" r="9" fill="#fff" stroke="#111" stroke-width="1.1" stroke-dasharray="7.6 4.7 7.5 5.2 7.6 5.2 13.8 4.9" transform="rotate(-124 369.3 746.6)"/>
<circle cx="415.2" cy="746.6" r="10.2" fill="#fff"/>
<circle cx="415.2" cy="746.6" r="9" fill="#fff" stroke="#111" stroke-width="1.1" stroke-dasharray="7.6 4.7 7.5 5.2 7.6 5.2 13.8 4.9" transform="rotate(-124 415.2 746.6)"/>
<circle cx="461" cy="746.6" r="10.2" fill="#fff"/>
<circle cx="461" cy="746.6" r="9" fill="#fff" stroke="#111" stroke-width="1.1" stroke-dasharray="7.6 4.7 7.5 5.2 7.6 5.2 13.8 4.9" transform="rotate(-124 461 746.6)"/>
<circle cx="506.8" cy="746.6" r="10.2" fill="#fff"/>
<circle cx="506.8" cy="746.6" r="9" fill="#fff" stroke="#111" stroke-width="1.1" stroke-dasharray="7.6 4.7 7.5 5.2 7.6 5.2 13.8 4.9" transform="rotate(-124 506.8 746.6)"/>
<circle cx="369.3" cy="781" r="10.2" fill="#fff"/>
<circle cx="369.3" cy="781" r="9" fill="#fff" stroke="#111" stroke-width="1.1" stroke-dasharray="7.6 4.7 7.5 5.2 7.6 5.2 13.8 4.9" transform="rotate(-124 369.3 781)"/>
<circle cx="415.2" cy="781" r="10.2" fill="#fff"/>
<circle cx="415.2" cy="781" r="9" fill="#fff" stroke="#111" stroke-width="1.1" stroke-dasharray="7.6 4.7 7.5 5.2 7.6 5.2 13.8 4.9" transform="rotate(-124 415.2 781)"/>
<circle cx="461" cy="781" r="10.2" fill="#fff"/>
<circle cx="461" cy="781" r="9" fill="#fff" stroke="#111" stroke-width="1.1" stroke-dasharray="7.6 4.7 7.5 5.2 7.6 5.2 13.8 4.9" transform="rotate(-124 461 781)"/>
<circle cx="506.8" cy="781" r="10.2" fill="#fff"/>
<circle cx="506.8" cy="781" r="9" fill="#fff" stroke="#111" stroke-width="1.1" stroke-dasharray="7.6 4.7 7.5 5.2 7.6 5.2 13.8 4.9" transform="rotate(-124 506.8 781)"/>
<circle cx="369.3" cy="821.2" r="10.2" fill="#fff"/>
<circle cx="369.3" cy="821.2" r="9" fill="#fff" stroke="#111" stroke-width="1.1" stroke-dasharray="7.6 4.7 7.5 5.2 7.6 5.2 13.8 4.9" transform="rotate(-124 369.3 821.2)"/>
<circle cx="415.2" cy="821.2" r="10.2" fill="#fff"/>
<circle cx="415.2" cy="821.2" r="9" fill="#fff" stroke="#111" stroke-width="1.1" stroke-dasharray="7.6 4.7 7.5 5.2 7.6 5.2 13.8 4.9" transform="rotate(-124 415.2 821.2)"/>
<circle cx="461" cy="821.2" r="10.2" fill="#fff"/>
<circle cx="461" cy="821.2" r="9" fill="#fff" stroke="#111" stroke-width="1.1" stroke-dasharray="7.6 4.7 7.5 5.2 7.6 5.2 13.8 4.9" transform="rotate(-124 461 821.2)"/>
<circle cx="506.8" cy="821.2" r="10.2" fill="#fff"/>
<circle cx="506.8" cy="821.2" r="9" fill="#fff" stroke="#111" stroke-width="1.1" stroke-dasharray="7.6 4.7 7.5 5.2 7.6 5.2 13.8 4.9" transform="rotate(-124 506.8 821.2)"/>
<circle cx="369.3" cy="855.4" r="10.2" fill="#fff"/>
<circle cx="369.3" cy="855.4" r="9" fill="#fff" stroke="#111" stroke-width="1.1" stroke-dasharray="7.6 4.7 7.5 5.2 7.6 5.2 13.8 4.9" transform="rotate(-124 369.3 855.4)"/>
<circle cx="415.2" cy="855.4" r="10.2" fill="#fff"/>
<circle cx="415.2" cy="855.4" r="9" fill="#fff" stroke="#111" stroke-width="1.1" stroke-dasharray="7.6 4.7 7.5 5.2 7.6 5.2 13.8 4.9" transform="rotate(-124 415.2 855.4)"/>
<circle cx="461" cy="855.4" r="10.2" fill="#fff"/>
<circle cx="461" cy="855.4" r="9" fill="#fff" stroke="#111" stroke-width="1.1" stroke-dasharray="7.6 4.7 7.5 5.2 7.6 5.2 13.8 4.9" transform="rotate(-124 461 855.4)"/>
<circle cx="506.8" cy="855.4" r="10.2" fill="#fff"/>
<circle cx="506.8" cy="855.4" r="9" fill="#fff" stroke="#111" stroke-width="1.1" stroke-dasharray="7.6 4.7 7.5 5.2 7.6 5.2 13.8 4.9" transform="rotate(-124 506.8 855.4)"/>
<circle cx="369.3" cy="889.6" r="10.2" fill="#fff"/>
<circle cx="369.3" cy="889.6" r="9" fill="#fff" stroke="#111" stroke-width="1.1" stroke-dasharray="7.6 4.7 7.5 5.2 7.6 5.2 13.8 4.9" transform="rotate(-124 369.3 889.6)"/>
<circle cx="415.2" cy="889.6" r="10.2" fill="#fff"/>
<circle cx="415.2" cy="889.6" r="9" fill="#fff" stroke="#111" stroke-width="1.1" stroke-dasharray="7.6 4.7 7.5 5.2 7.6 5.2 13.8 4.9" transform="rotate(-124 415.2 889.6)"/>
<circle cx="461" cy="889.6" r="10.2" fill="#fff"/>
<circle cx="461" cy="889.6" r="9" fill="#fff" stroke="#111" stroke-width="1.1" stroke-dasharray="7.6 4.7 7.5 5.2 7.6 5.2 13.8 4.9" transform="rotate(-124 461 889.6)"/>
<circle cx="506.8" cy="889.6" r="10.2" fill="#fff"/>
<circle cx="506.8" cy="889.6" r="9" fill="#fff" stroke="#111" stroke-width="1.1" stroke-dasharray="7.6 4.7 7.5 5.2 7.6 5.2 13.8 4.9" transform="rotate(-124 506.8 889.6)"/>
<circle cx="369.3" cy="924.5" r="10.2" fill="#fff"/>
<circle cx="369.3" cy="924.5" r="9" fill="#fff" stroke="#111" stroke-width="1.1" stroke-dasharray="7.6 4.7 7.5 5.2 7.6 5.2 13.8 4.9" transform="rotate(-124 369.3 924.5)"/>
<circle cx="415.2" cy="924.5" r="10.2" fill="#fff"/>
<circle cx="415.2" cy="924.5" r="9" fill="#fff" stroke="#111" stroke-width="1.1" stroke-dasharray="7.6 4.7 7.5 5.2 7.6 5.2 13.8 4.9" transform="rotate(-124 415.2 924.5)"/>
<circle cx="461" cy="924.5" r="10.2" fill="#fff"/>
<circle cx="461" cy="924.5" r="9" fill="#fff" stroke="#111" stroke-width="1.1" stroke-dasharray="7.6 4.7 7.5 5.2 7.6 5.2 13.8 4.9" transform="rotate(-124 461 924.5)"/>
<circle cx="506.8" cy="924.5" r="10.2" fill="#fff"/>
<circle cx="506.8" cy="924.5" r="9" fill="#fff" stroke="#111" stroke-width="1.1" stroke-dasharray="7.6 4.7 7.5 5.2 7.6 5.2 13.8 4.9" transform="rotate(-124 506.8 924.5)"/>
<circle cx="369.3" cy="958.9" r="10.2" fill="#fff"/>
<circle cx="369.3" cy="958.9" r="9" fill="#fff" stroke="#111" stroke-width="1.1" stroke-dasharray="7.6 4.7 7.5 5.2 7.6 5.2 13.8 4.9" transform="rotate(-124 369.3 958.9)"/>
<circle cx="415.2" cy="958.9" r="10.2" fill="#fff"/>
<circle cx="415.2" cy="958.9" r="9" fill="#fff" stroke="#111" stroke-width="1.1" stroke-dasharray="7.6 4.7 7.5 5.2 7.6 5.2 13.8 4.9" transform="rotate(-124 415.2 958.9)"/>
<circle cx="461" cy="958.9" r="10.2" fill="#fff"/>
<circle cx="461" cy="958.9" r="9" fill="#fff" stroke="#111" stroke-width="1.1" stroke-dasharray="7.6 4.7 7.5 5.2 7.6 5.2 13.8 4.9" transform="rotate(-124 461 958.9)"/>
<circle cx="506.8" cy="958.9" r="10.2" fill="#fff"/>
<circle cx="506.8" cy="958.9" r="9" fill="#fff" stroke="#111" stroke-width="1.1" stroke-dasharray="7.6 4.7 7.5 5.2 7.6 5.2 13.8 4.9" transform="rotate(-124 506.8 958.9)"/>
<circle cx="369.3" cy="993.6" r="10.2" fill="#fff"/>
<circle cx="369.3" cy="993.6" r="9" fill="#fff" stroke="#111" stroke-width="1.1" stroke-dasharray="7.6 4.7 7.5 5.2 7.6 5.2 13.8 4.9" transform="rotate(-124 369.3 993.6)"/>
<circle cx="415.2" cy="993.6" r="10.2" fill="#fff"/>
<circle cx="415.2" cy="993.6" r="9" fill="#fff" stroke="#111" stroke-width="1.1" stroke-dasharray="7.6 4.7 7.5 5.2 7.6 5.2 13.8 4.9" transform="rotate(-124 415.2 993.6)"/>
<circle cx="461" cy="993.6" r="10.2" fill="#fff"/>
<circle cx="461" cy="993.6" r="9" fill="#fff" stroke="#111" stroke-width="1.1" stroke-dasharray="7.6 4.7 7.5 5.2 7.6 5.2 13.8 4.9" transform="rotate(-124 461 993.6)"/>
<circle cx="506.8" cy="993.6" r="10.2" fill="#fff"/>
<circle cx="506.8" cy="993.6" r="9" fill="#fff" stroke="#111" stroke-width="1.1" stroke-dasharray="7.6 4.7 7.5 5.2 7.6 5.2 13.8 4.9" transform="rotate(-124 506.8 993.6)"/>
<circle cx="369.3" cy="1028" r="10.2" fill="#fff"/>
<circle cx="369.3" cy="1028" r="9" fill="#fff" stroke="#111" stroke-width="1.1" stroke-dasharray="7.6 4.7 7.5 5.2 7.6 5.2 13.8 4.9" transform="rotate(-124 369.3 1028)"/>
<circle cx="415.2" cy="1028" r="10.2" fill="#fff"/>
<circle cx="415.2" cy="1028" r="9" fill="#fff" stroke="#111" stroke-width="1.1" stroke-dasharray="7.6 4.7 7.5 5.2 7.6 5.2 13.8 4.9" transform="rotate(-124 415.2 1028)"/>
<circle cx="461" cy="1028" r="10.2" fill="#fff"/>
<circle cx="461" cy="1028" r="9" fill="#fff" stroke="#111" stroke-width="1.1" stroke-dasharray="7.6 4.7 7.5 5.2 7.6 5.2 13.8 4.9" transform="rotate(-124 461 1028)"/>
<circle cx="506.8" cy="1028" r="10.2" fill="#fff"/>
<circle cx="506.8" cy="1028" r="9" fill="#fff" stroke="#111" stroke-width="1.1" stroke-dasharray="7.6 4.7 7.5 5.2 7.6 5.2 13.8 4.9" transform="rotate(-124 506.8 1028)"/>
<path d="M348.5,877.3 V565.2 H528.7 V877.3 H348.5" fill="none" stroke="#000" stroke-width="1.6" stroke-dasharray="25.5 13"/>
<circle cx="347.4" cy="1064.3" r="10.2" fill="#fff"/>
<circle cx="347.4" cy="1064.3" r="9" fill="#fff" stroke="#111" stroke-width="1.1" stroke-dasharray="7.6 4.7 7.5 5.2 7.6 5.2 13.8 4.9" transform="rotate(-124 347.4 1064.3)"/>
<circle cx="388.3" cy="1064.3" r="10.2" fill="#fff"/>
<circle cx="388.3" cy="1064.3" r="9" fill="#fff" stroke="#111" stroke-width="1.1" stroke-dasharray="7.6 4.7 7.5 5.2 7.6 5.2 13.8 4.9" transform="rotate(-124 388.3 1064.3)"/>
<circle cx="433.8" cy="1064.3" r="10.2" fill="#fff"/>
<circle cx="433.8" cy="1064.3" r="9" fill="#fff" stroke="#111" stroke-width="1.1" stroke-dasharray="7.6 4.7 7.5 5.2 7.6 5.2 13.8 4.9" transform="rotate(-124 433.8 1064.3)"/>
<circle cx="479.9" cy="1064.3" r="10.2" fill="#fff"/>
<circle cx="479.9" cy="1064.3" r="9" fill="#fff" stroke="#111" stroke-width="1.1" stroke-dasharray="7.6 4.7 7.5 5.2 7.6 5.2 13.8 4.9" transform="rotate(-124 479.9 1064.3)"/>
<circle cx="526" cy="1064.3" r="10.2" fill="#fff"/>
<circle cx="526" cy="1064.3" r="9" fill="#fff" stroke="#111" stroke-width="1.1" stroke-dasharray="7.6 4.7 7.5 5.2 7.6 5.2 13.8 4.9" transform="rotate(-124 526 1064.3)"/>
<circle cx="323.8" cy="1112.5" r="10.2" fill="#fff"/>
<circle cx="323.8" cy="1112.5" r="9" fill="#fff" stroke="#111" stroke-width="1.1" stroke-dasharray="7.6 4.7 7.5 5.2 7.6 5.2 13.8 4.9" transform="rotate(-124 323.8 1112.5)"/>
<circle cx="362.8" cy="1112.5" r="10.2" fill="#fff"/>
<circle cx="362.8" cy="1112.5" r="9" fill="#fff" stroke="#111" stroke-width="1.1" stroke-dasharray="7.6 4.7 7.5 5.2 7.6 5.2 13.8 4.9" transform="rotate(-124 362.8 1112.5)"/>
<circle cx="408.9" cy="1112.5" r="10.2" fill="#fff"/>
<circle cx="408.9" cy="1112.5" r="9" fill="#fff" stroke="#111" stroke-width="1.1" stroke-dasharray="7.6 4.7 7.5 5.2 7.6 5.2 13.8 4.9" transform="rotate(-124 408.9 1112.5)"/>
<circle cx="455" cy="1112.5" r="10.2" fill="#fff"/>
<circle cx="455" cy="1112.5" r="9" fill="#fff" stroke="#111" stroke-width="1.1" stroke-dasharray="7.6 4.7 7.5 5.2 7.6 5.2 13.8 4.9" transform="rotate(-124 455 1112.5)"/>
<circle cx="500.4" cy="1112.5" r="10.2" fill="#fff"/>
<circle cx="500.4" cy="1112.5" r="9" fill="#fff" stroke="#111" stroke-width="1.1" stroke-dasharray="7.6 4.7 7.5 5.2 7.6 5.2 13.8 4.9" transform="rotate(-124 500.4 1112.5)"/>
<circle cx="548" cy="1112.5" r="10.2" fill="#fff"/>
<circle cx="548" cy="1112.5" r="9" fill="#fff" stroke="#111" stroke-width="1.1" stroke-dasharray="7.6 4.7 7.5 5.2 7.6 5.2 13.8 4.9" transform="rotate(-124 548 1112.5)"/>
<circle cx="306.9" cy="1160.5" r="10.2" fill="#fff"/>
<circle cx="306.9" cy="1160.5" r="9" fill="#fff" stroke="#111" stroke-width="1.1" stroke-dasharray="7.6 4.7 7.5 5.2 7.6 5.2 13.8 4.9" transform="rotate(-124 306.9 1160.5)"/>
<circle cx="345.9" cy="1160.5" r="10.2" fill="#fff"/>
<circle cx="345.9" cy="1160.5" r="9" fill="#fff" stroke="#111" stroke-width="1.1" stroke-dasharray="7.6 4.7 7.5 5.2 7.6 5.2 13.8 4.9" transform="rotate(-124 345.9 1160.5)"/>
<circle cx="392" cy="1160.5" r="10.2" fill="#fff"/>
<circle cx="392" cy="1160.5" r="9" fill="#fff" stroke="#111" stroke-width="1.1" stroke-dasharray="7.6 4.7 7.5 5.2 7.6 5.2 13.8 4.9" transform="rotate(-124 392 1160.5)"/>
<circle cx="437.5" cy="1160.5" r="10.2" fill="#fff"/>
<circle cx="437.5" cy="1160.5" r="9" fill="#fff" stroke="#111" stroke-width="1.1" stroke-dasharray="7.6 4.7 7.5 5.2 7.6 5.2 13.8 4.9" transform="rotate(-124 437.5 1160.5)"/>
<circle cx="483.5" cy="1160.5" r="10.2" fill="#fff"/>
<circle cx="483.5" cy="1160.5" r="9" fill="#fff" stroke="#111" stroke-width="1.1" stroke-dasharray="7.6 4.7 7.5 5.2 7.6 5.2 13.8 4.9" transform="rotate(-124 483.5 1160.5)"/>
<circle cx="531.8" cy="1160.5" r="10.2" fill="#fff"/>
<circle cx="531.8" cy="1160.5" r="9" fill="#fff" stroke="#111" stroke-width="1.1" stroke-dasharray="7.6 4.7 7.5 5.2 7.6 5.2 13.8 4.9" transform="rotate(-124 531.8 1160.5)"/>
<circle cx="577.9" cy="1160.5" r="10.2" fill="#fff"/>
<circle cx="577.9" cy="1160.5" r="9" fill="#fff" stroke="#111" stroke-width="1.1" stroke-dasharray="7.6 4.7 7.5 5.2 7.6 5.2 13.8 4.9" transform="rotate(-124 577.9 1160.5)"/>
<path d="M662.5,372.4 L811.5,372.4 L811.5,477 L705.8,477 L600,582.8 L600,485 L562,485 L562,473.5Z" fill="#D9D9D9"/>
<rect x="562" y="528.7" width="38" height="54.3" fill="#D9D9D9"/>
<rect x="562.5" y="585.8" width="248.9" height="104.1" fill="#D9D9D9"/>
<rect x="563" y="737.8" width="248.4" height="104" fill="#D9D9D9"/>
<path d="M563.8,853 L600,853 L712.5,945.4 L812.1,945.4 L812.1,1050.1 L673.8,1050.1 L563.8,956.6Z" fill="#D9D9D9"/>
<rect x="563" y="919.3" width="38" height="8" fill="#EEF1F6"/>
<path d="M561.8,378.5 L540.3,400.2 L540.3,637.8 L564.3,661.5" fill="none" stroke="#D8D8D8" stroke-width="2.4" />
<path d="M563.3,408.4 L549.5,419.7 L549.5,469.7 L564,483" fill="none" stroke="#D8D8D8" stroke-width="2.4" />
<path d="M564.2,764.8 L540.3,788.4 L540.3,1028.6 L562,1050.7" fill="none" stroke="#D8D8D8" stroke-width="2.4" />
<path d="M564,948 L549.8,962.3 L549.8,1009 L563,1020.8" fill="none" stroke="#D8D8D8" stroke-width="2.4" />
<path d="M563.8,588.3 L599.5,588.3 L697.6,490.8 L755.5,490.8 L755.5,560 L725.8,560 L626.2,661.1 L563.8,661.1Z" fill="#707070"/>
<path d="M563.8,537.5 L599.5,537.5 L636.4,501 L659.2,523 L599.5,582.2 L563.8,582.2Z" fill="#707070"/>
<rect x="563.5" y="664" width="82.8" height="23.2" fill="#707070"/>
<rect x="563.5" y="740.5" width="82.8" height="23.4" fill="#707070"/>
<path d="M563.9,769.7 L624.9,769.7 L735.9,862.6 L768.4,862.6 L768.4,933.1 L710.9,933.1 L599.9,841.8 L563.9,841.8Z" fill="#707070"/>
<path d="M563.9,850.7 L598,850.7 L667.9,909.3 L646.5,933 L600,896.5 L563.9,896.5Z" fill="#707070"/>
<circle cx="744.6" cy="500.6" r="5.9" fill="#fff" stroke="#222" stroke-width="0.9"/>
<circle cx="744.6" cy="525.8" r="5.9" fill="#fff" stroke="#222" stroke-width="0.9"/>
<circle cx="744.6" cy="550.5" r="5.9" fill="#fff" stroke="#222" stroke-width="0.9"/>
<circle cx="608" cy="554.3" r="5.9" fill="#fff" stroke="#222" stroke-width="0.9"/>
<circle cx="621" cy="541.2" r="5.9" fill="#fff" stroke="#222" stroke-width="0.9"/>
<circle cx="632.9" cy="530.5" r="5.9" fill="#fff" stroke="#222" stroke-width="0.9"/>
<circle cx="645.1" cy="519.8" r="5.9" fill="#fff" stroke="#222" stroke-width="0.9"/>
<circle cx="607.7" cy="675.6" r="5.9" fill="#fff" stroke="#222" stroke-width="0.9"/>
<circle cx="623.3" cy="675.6" r="5.9" fill="#fff" stroke="#222" stroke-width="0.9"/>
<circle cx="638.9" cy="675.6" r="5.9" fill="#fff" stroke="#222" stroke-width="0.9"/>
<circle cx="607.7" cy="752.2" r="5.9" fill="#fff" stroke="#222" stroke-width="0.9"/>
<circle cx="623.3" cy="752.2" r="5.9" fill="#fff" stroke="#222" stroke-width="0.9"/>
<circle cx="638.9" cy="752.2" r="5.9" fill="#fff" stroke="#222" stroke-width="0.9"/>
<circle cx="755.3" cy="872.9" r="5.9" fill="#fff" stroke="#222" stroke-width="0.9"/>
<circle cx="755.3" cy="897.9" r="5.9" fill="#fff" stroke="#222" stroke-width="0.9"/>
<circle cx="755.3" cy="922.8" r="5.9" fill="#fff" stroke="#222" stroke-width="0.9"/>
<circle cx="607.7" cy="877.1" r="5.9" fill="#fff" stroke="#222" stroke-width="0.9"/>
<circle cx="623.3" cy="891.7" r="5.9" fill="#fff" stroke="#222" stroke-width="0.9"/>
<circle cx="637.6" cy="903.6" r="5.9" fill="#fff" stroke="#222" stroke-width="0.9"/>
<circle cx="652.5" cy="915.8" r="5.9" fill="#fff" stroke="#222" stroke-width="0.9"/>
<circle cx="561.8" cy="378.5" r="7.1000000000000005" fill="#fff"/>
<circle cx="561.8" cy="378.5" r="5.9" fill="#fff" stroke="#111" stroke-width="1.1" stroke-dasharray="7.2 4.7 6.9 4.9 8.7 4.6" transform="rotate(-101.5 561.8 378.5)"/>
<path d="M567.4,378.5 L576.5,378.5" fill="none" stroke="#000" stroke-width="1.1" />
<path d="M576.5,367.2 L576.5,390.7" fill="none" stroke="#000" stroke-width="1.1" />
<path d="M583.4,367.2 L583.4,390.7" fill="none" stroke="#000" stroke-width="1.1" />
<path d="M583.4,378.5 L598.3,378.5" fill="none" stroke="#000" stroke-width="1.1" />
<path d="M598.3,378.5 L623.4,403.6 L623.4,456.3 L611,468.7 L598.5,468.7" fill="none" stroke="#707070" stroke-width="2.6" stroke-linejoin="miter" stroke-linecap="butt"/>
<circle cx="563.3" cy="408.4" r="7.1000000000000005" fill="#fff"/>
<circle cx="563.3" cy="408.4" r="5.9" fill="#fff" stroke="#111" stroke-width="1.1" stroke-dasharray="7.2 4.7 6.9 4.9 8.7 4.6" transform="rotate(-101.5 563.3 408.4)"/>
<path d="M568.9,408.4 L577.2,408.4" fill="none" stroke="#000" stroke-width="1.1" />
<path d="M577.2,397.1 L577.2,420.8" fill="none" stroke="#000" stroke-width="1.1" />
<path d="M584.4,397.1 L584.4,420.8" fill="none" stroke="#000" stroke-width="1.1" />
<path d="M584.4,408.4 L599.4,408.4" fill="none" stroke="#000" stroke-width="1.1" />
<path d="M599.4,408.4 L610.7,419.7 L610.7,438.7 L605,444.4 L598.5,444.4" fill="none" stroke="#707070" stroke-width="2.6" stroke-linejoin="miter" stroke-linecap="butt"/>
<circle cx="563" cy="1020.8" r="7.1000000000000005" fill="#fff"/>
<circle cx="563" cy="1020.8" r="5.9" fill="#fff" stroke="#111" stroke-width="1.1" stroke-dasharray="7.2 4.7 6.9 4.9 8.7 4.6" transform="rotate(-101.5 563 1020.8)"/>
<path d="M568.6,1020.8 L577.2,1020.8" fill="none" stroke="#000" stroke-width="1.1" />
<path d="M577.2,1009 L577.2,1032.7" fill="none" stroke="#000" stroke-width="1.1" />
<path d="M584.4,1009 L584.4,1032.7" fill="none" stroke="#000" stroke-width="1.1" />
<path d="M584.4,1020.8 L599.4,1020.8" fill="none" stroke="#000" stroke-width="1.1" />
<path d="M599.4,1020.8 L610.2,1010 L610.2,991 L604,984.8 L598.5,984.8" fill="none" stroke="#707070" stroke-width="2.6" stroke-linejoin="miter" stroke-linecap="butt"/>
<circle cx="562" cy="1050.7" r="7.1000000000000005" fill="#fff"/>
<circle cx="562" cy="1050.7" r="5.9" fill="#fff" stroke="#111" stroke-width="1.1" stroke-dasharray="7.2 4.7 6.9 4.9 8.7 4.6" transform="rotate(-101.5 562 1050.7)"/>
<path d="M567.6,1050.7 L576.2,1050.7" fill="none" stroke="#000" stroke-width="1.1" />
<path d="M576.2,1039.4 L576.2,1062.6" fill="none" stroke="#000" stroke-width="1.1" />
<path d="M583.4,1039.4 L583.4,1062.6" fill="none" stroke="#000" stroke-width="1.1" />
<path d="M583.4,1050.7 L597.3,1050.7" fill="none" stroke="#000" stroke-width="1.1" />
<path d="M597.3,1050.7 L623.1,1024.9 L623.1,973 L609.7,959.6 L598.5,959.6" fill="none" stroke="#707070" stroke-width="2.6" stroke-linejoin="miter" stroke-linecap="butt"/>
<rect x="564.7" y="435.6" width="34.6" height="17.0" fill="#fff" stroke="#000" stroke-width="1.1"/>
<text x="576.35" y="447.5" font-size="10" textLength="10.5" lengthAdjust="spacingAndGlyphs" fill="#1a1a1a">44</text>
<rect x="564.7" y="460.5" width="34.6" height="17.0" fill="#fff" stroke="#000" stroke-width="1.1"/>
<text x="576.35" y="472.4" font-size="10" textLength="10.5" lengthAdjust="spacingAndGlyphs" fill="#1a1a1a">43</text>
<rect x="564.7" y="485.4" width="34.6" height="17.0" fill="#fff" stroke="#000" stroke-width="1.1"/>
<text x="576.35" y="497.3" font-size="10" textLength="10.5" lengthAdjust="spacingAndGlyphs" fill="#1a1a1a">42</text>
<rect x="564.7" y="511.4" width="34.6" height="17.0" fill="#fff" stroke="#000" stroke-width="1.1"/>
<text x="576.35" y="523.3" font-size="10" textLength="10.5" lengthAdjust="spacingAndGlyphs" fill="#1a1a1a">41</text>
<rect x="564.7" y="537.4" width="34.6" height="17.0" fill="#fff" stroke="#000" stroke-width="1.1"/>
<text x="576.35" y="549.3" font-size="10" textLength="10.5" lengthAdjust="spacingAndGlyphs" fill="#1a1a1a">40</text>
<rect x="564.7" y="563.4" width="34.6" height="17.0" fill="#fff" stroke="#000" stroke-width="1.1"/>
<text x="576.35" y="575.3" font-size="10" textLength="10.5" lengthAdjust="spacingAndGlyphs" fill="#1a1a1a">39</text>
<rect x="564.7" y="589.5" width="34.6" height="17.0" fill="#fff" stroke="#000" stroke-width="1.1"/>
<text x="576.35" y="601.4" font-size="10" textLength="10.5" lengthAdjust="spacingAndGlyphs" fill="#1a1a1a">38</text>
<rect x="564.7" y="614.6" width="34.6" height="17.0" fill="#fff" stroke="#000" stroke-width="1.1"/>
<text x="576.35" y="626.5" font-size="10" textLength="10.5" lengthAdjust="spacingAndGlyphs" fill="#1a1a1a">37</text>
<rect x="564.7" y="640.4" width="34.6" height="17.0" fill="#fff" stroke="#000" stroke-width="1.1"/>
<text x="576.35" y="652.3" font-size="10" textLength="10.5" lengthAdjust="spacingAndGlyphs" fill="#1a1a1a">36</text>
<rect x="564.7" y="666.8" width="34.6" height="17.0" fill="#fff" stroke="#000" stroke-width="1.1"/>
<text x="576.35" y="678.7" font-size="10" textLength="10.5" lengthAdjust="spacingAndGlyphs" fill="#1a1a1a">35</text>
<rect x="564.7" y="692.3" width="34.6" height="17.0" fill="#fff" stroke="#000" stroke-width="1.1"/>
<text x="576.35" y="704.2" font-size="10" textLength="10.5" lengthAdjust="spacingAndGlyphs" fill="#1a1a1a">34</text>
<rect x="564.7" y="717.8" width="34.6" height="17.0" fill="#fff" stroke="#000" stroke-width="1.1"/>
<text x="576.35" y="729.7" font-size="10" textLength="10.5" lengthAdjust="spacingAndGlyphs" fill="#1a1a1a">33</text>
<rect x="564.7" y="743.5" width="34.6" height="17.0" fill="#fff" stroke="#000" stroke-width="1.1"/>
<text x="576.35" y="755.4" font-size="10" textLength="10.5" lengthAdjust="spacingAndGlyphs" fill="#1a1a1a">32</text>
<rect x="564.7" y="769.9" width="34.6" height="17.0" fill="#fff" stroke="#000" stroke-width="1.1"/>
<text x="576.35" y="781.8" font-size="10" textLength="10.5" lengthAdjust="spacingAndGlyphs" fill="#1a1a1a">31</text>
<rect x="564.7" y="798.7" width="34.6" height="17.0" fill="#fff" stroke="#000" stroke-width="1.1"/>
<text x="576.35" y="810.6" font-size="10" textLength="10.5" lengthAdjust="spacingAndGlyphs" fill="#1a1a1a">30</text>
<rect x="564.7" y="824.5" width="34.6" height="17.0" fill="#fff" stroke="#000" stroke-width="1.1"/>
<text x="576.35" y="836.4" font-size="10" textLength="10.5" lengthAdjust="spacingAndGlyphs" fill="#1a1a1a">29</text>
<rect x="564.7" y="850.9" width="34.6" height="17.0" fill="#fff" stroke="#000" stroke-width="1.1"/>
<text x="576.35" y="862.8" font-size="10" textLength="10.5" lengthAdjust="spacingAndGlyphs" fill="#1a1a1a">28</text>
<rect x="564.7" y="876.7" width="34.6" height="17.0" fill="#fff" stroke="#000" stroke-width="1.1"/>
<text x="576.35" y="888.6" font-size="10" textLength="10.5" lengthAdjust="spacingAndGlyphs" fill="#1a1a1a">27</text>
<rect x="564.7" y="902.5" width="34.6" height="17.0" fill="#fff" stroke="#000" stroke-width="1.1"/>
<text x="576.35" y="914.4" font-size="10" textLength="10.5" lengthAdjust="spacingAndGlyphs" fill="#1a1a1a">26</text>
<rect x="564.7" y="927.8" width="34.6" height="17.0" fill="#fff" stroke="#000" stroke-width="1.1"/>
<text x="576.35" y="939.7" font-size="10" textLength="10.5" lengthAdjust="spacingAndGlyphs" fill="#1a1a1a">25</text>
<rect x="564.7" y="953.7" width="34.6" height="17.0" fill="#fff" stroke="#000" stroke-width="1.1"/>
<text x="576.35" y="965.6" font-size="10" textLength="10.5" lengthAdjust="spacingAndGlyphs" fill="#1a1a1a">24</text>
<rect x="564.7" y="979.7" width="34.6" height="17.0" fill="#fff" stroke="#000" stroke-width="1.1"/>
<text x="576.35" y="991.6" font-size="10" textLength="10.5" lengthAdjust="spacingAndGlyphs" fill="#1a1a1a">23</text>
<ellipse cx="723.9" cy="358.3" rx="5" ry="6.2" fill="none" stroke="#000" stroke-width="1.8"/>
<path d="M723.9,364 L723.9,412.4" fill="none" stroke="#000" stroke-width="1.15" />
<path d="M723.9,439 L723.9,490.8" fill="none" stroke="#000" stroke-width="1.15" />
<path d="M682.9,385.1 A40.9 27.3 0 0 0 764.7,385.1" fill="none" stroke="#000" stroke-width="1.2"/>
<path d="M682.2,438.6 L765,439.5" fill="none" stroke="#000" stroke-width="1.15" />
<path d="M770.5,486.9 L746,486.9 L727.5,458.5" fill="none" stroke="#000" stroke-width="1.05" />
<path d="M723.9,452.7 L733.5,460.2 L726.2,465 Z" fill="#000"/>
<text x="776" y="496.9" font-size="16.3" font-weight="bold" textLength="18" lengthAdjust="spacingAndGlyphs">T1</text>
<path d="M735.4,933.1 L735.4,982.5" fill="none" stroke="#000" stroke-width="1.15" />
<path d="M695.2,982.5 L777.3,982.5" fill="none" stroke="#000" stroke-width="1.15" />
<path d="M695.2,1036.1 A40.6 26.8 0 0 1 776.4,1036.1" fill="none" stroke="#000" stroke-width="1.2"/>
<path d="M735.4,1009.3 L735.4,1057.5" fill="none" stroke="#000" stroke-width="1.15" />
<ellipse cx="735.4" cy="1064" rx="5.2" ry="6.2" fill="none" stroke="#000" stroke-width="1.8"/>
<path d="M783.8,1068.8 L760,1068.8 L740.4,1040" fill="none" stroke="#000" stroke-width="1.05" />
<path d="M736.9,1034.6 L746.6,1041.8 L739.2,1046.6 Z" fill="#000"/>
<text x="789.8" y="1078.6" font-size="16.3" font-weight="bold" textLength="17" lengthAdjust="spacingAndGlyphs">T1</text>
<path d="M658.2,628.8 L658.2,653.2" fill="none" stroke="#000" stroke-width="1.1" />
<path d="M646.3,653.2 L670.7,653.2" fill="none" stroke="#000" stroke-width="1.1" />
<path d="M646.3,666.6 L670.7,666.6" fill="none" stroke="#000" stroke-width="1.1" />
<path d="M658.2,666.6 L658.2,692.1" fill="none" stroke="#000" stroke-width="1.1" />
<path d="M706.8,715.1 L683.2,715.1 L661.8,685.5" fill="none" stroke="#000" stroke-width="1.05" />
<path d="M658.2,680.4 L668.3,687.2 L661.2,692.2 Z" fill="#000"/>
<text x="711.5" y="724.8" font-size="16.3" font-weight="bold" textLength="17.5" lengthAdjust="spacingAndGlyphs">T2</text>
<path d="M658.2,734.2 L658.2,760" fill="none" stroke="#000" stroke-width="1.1" />
<path d="M646.3,760 L670.7,760" fill="none" stroke="#000" stroke-width="1.1" />
<path d="M646.3,773.6 L670.7,773.6" fill="none" stroke="#000" stroke-width="1.1" />
<path d="M658.2,773.6 L658.2,796.6" fill="none" stroke="#000" stroke-width="1.1" />
<path d="M706.8,812.7 L682.6,812.7 L661.8,783.6" fill="none" stroke="#000" stroke-width="1.05" />
<path d="M658.2,778.6 L668.3,785.4 L661.2,790.4 Z" fill="#000"/>
<text x="711.5" y="823.8" font-size="16.3" font-weight="bold" textLength="17.5" lengthAdjust="spacingAndGlyphs">T2</text>
<rect x="882.7" y="376.7" width="82.4" height="106.4" fill="#707070"/>
<rect x="882.7" y="579.5" width="82.4" height="104.5" fill="#707070"/>
<rect x="883.3" y="741.5" width="81.8" height="105.1" fill="#707070"/>
<rect x="882.7" y="942.2" width="82.4" height="105" fill="#707070"/>
<path d="M811.3,419 C809.8,386.55 829.8,378.73 828.3,442.7 C826.8,378.73 848.1,378.73 846.6,442.7 C845.1,378.73 866.7,378.73 865.2,442.7 C863.7,378.73 884.2,386.55 882.7,419" fill="none" stroke="#000" stroke-width="1.05"/>
<path d="M811.3,636 C809.8,669.38 829.8,676.91 828.3,613.2 C826.8,676.91 848.1,676.91 846.6,613.2 C845.1,676.91 866.7,676.91 865.2,613.2 C863.7,676.91 884.2,669.38 882.7,636" fill="none" stroke="#000" stroke-width="1.05"/>
<path d="M811.3,775 C809.8,742.15 829.8,734.53 828.3,798.1 C826.8,734.53 848.1,734.53 846.6,798.1 C845.1,734.53 866.7,734.53 865.2,798.1 C863.7,734.53 884.8,742.15 883.3,775" fill="none" stroke="#000" stroke-width="1.05"/>
<path d="M812.1,999 C810.6,1031.98 829.8,1039.81 828.3,975.3 C826.8,1039.81 848.1,1039.81 846.6,975.3 C845.1,1039.81 866.7,1039.81 865.2,975.3 C863.7,1039.81 884.2,1031.98 882.7,999" fill="none" stroke="#000" stroke-width="1.05"/>
<path d="M912.6,483.1 L912.6,498.2" fill="none" stroke="#000" stroke-width="1.1" />
<path d="M900.2,498.2 L924.7,498.2" fill="none" stroke="#000" stroke-width="1.1" />
<path d="M900.2,505.2 L924.7,505.2" fill="none" stroke="#000" stroke-width="1.1" />
<path d="M912.6,505.2 L912.6,517" fill="none" stroke="#000" stroke-width="1.1" />
<path d="M912.6,543.7 L912.6,558.5" fill="none" stroke="#000" stroke-width="1.1" />
<path d="M900.2,558.5 L924.7,558.5" fill="none" stroke="#000" stroke-width="1.1" />
<path d="M900.2,565.2 L924.7,565.2" fill="none" stroke="#000" stroke-width="1.1" />
<path d="M912.6,565.2 L912.6,579.5" fill="none" stroke="#000" stroke-width="1.1" />
<path d="M913.4,846.6 L913.4,860" fill="none" stroke="#000" stroke-width="1.1" />
<path d="M901,860 L924.7,860" fill="none" stroke="#000" stroke-width="1.1" />
<path d="M901,867.3 L924.7,867.3" fill="none" stroke="#000" stroke-width="1.1" />
<path d="M913.4,867.3 L913.4,878.9" fill="none" stroke="#000" stroke-width="1.1" />
<path d="M913.4,905.8 L913.4,920.1" fill="none" stroke="#000" stroke-width="1.1" />
<path d="M901,920.1 L924.7,920.1" fill="none" stroke="#000" stroke-width="1.1" />
<path d="M901,927.4 L924.7,927.4" fill="none" stroke="#000" stroke-width="1.1" />
<path d="M913.4,927.4 L913.4,942.2" fill="none" stroke="#000" stroke-width="1.1" />
<path d="M957.6,483.1 L957.6,508.1" fill="none" stroke="#000" stroke-width="1.05" />
<rect x="945.4" y="508.1" width="24.3" height="47.2" fill="none" stroke="#000" stroke-width="1.2"/>
<path d="M957.6,555.3 L957.6,579.5" fill="none" stroke="#000" stroke-width="1.05" />
<path d="M969.7,508.1 L993.4,483.4 L993.4,579.5 L969.7,555.3" fill="none" stroke="#000" stroke-width="1.05" />
<path d="M957.6,846.6 L957.6,870.3" fill="none" stroke="#000" stroke-width="1.05" />
<rect x="945.4" y="870.3" width="24.3" height="48.2" fill="none" stroke="#000" stroke-width="1.2"/>
<path d="M958.4,918.5 L958.4,942.2" fill="none" stroke="#000" stroke-width="1.05" />
<path d="M969.7,870.3 L994.5,846.6 L994.5,942.2 L969.7,918.5" fill="none" stroke="#000" stroke-width="1.05" />
<rect x="1.5" y="1.5" width="1006" height="1259" fill="none" stroke="#fff" stroke-width="1"/>
<rect x="0.5" y="0.5" width="1008" height="1261" fill="none" stroke="#000" stroke-width="1"/>
</svg>
</body></html>
